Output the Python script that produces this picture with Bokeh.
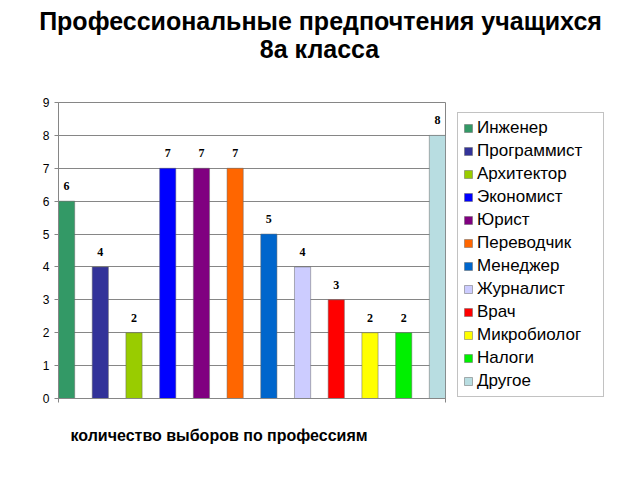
from bokeh.plotting import figure
from bokeh.layouts import column, row
from bokeh.models import (ColumnDataSource, Legend, LegendItem, FixedTicker,
                          Range1d, LabelSet, Label, Title)
from bokeh.embed import file_html
from bokeh.resources import INLINE

professions = ["Инженер", "Программист", "Архитектор", "Экономист", "Юрист",
               "Переводчик", "Менеджер", "Журналист", "Врач", "Микробиолог",
               "Налоги", "Другое"]
votes = [6, 4, 2, 7, 7, 7, 5, 4, 3, 2, 2, 8]
colors = ["#339966", "#333399", "#99CC00", "#0000FF", "#800080", "#FF6600",
          "#0066CC", "#CCCCFF", "#FF0000", "#FFFF00", "#00F000", "#B8DDE1"]
title_line1 = "Профессиональные предпочтения учащихся"
title_line2 = "8а класса"
x_title = "количество выборов по профессиям"
y_ticks = [0, 1, 2, 3, 4, 5, 6, 7, 8, 9]

FONT = "Liberation Sans"
GRAY = "#868686"

positions = list(range(len(professions)))
bar_w = 0.48
source = ColumnDataSource(dict(x=positions, top=votes, color=colors,
                               name=professions, label=[str(v) for v in votes]))

# ---- title strip ----
head = figure(width=640, height=94, x_range=Range1d(0, 640), y_range=Range1d(94, 0),
              output_backend="svg", toolbar_location=None,
              x_axis_location=None, y_axis_location=None,
              min_border=0)
head.grid.visible = False
head.outline_line_color = None
head.add_layout(Label(x=320, y=20, text=title_line1, text_align="center",
                      text_baseline="middle", text_font=FONT,
                      text_font_size="25px", text_font_style="bold",
                      text_color="black"))
head.add_layout(Label(x=319, y=48, text=title_line2, text_align="center",
                      text_baseline="middle", text_font=FONT,
                      text_font_size="25px", text_font_style="bold",
                      text_color="black"))

# ---- main chart ----
p = figure(width=452, height=386,
           x_range=Range1d(-bar_w / 2, len(professions) - 1 + bar_w / 2),
           y_range=Range1d(0, 9),
           output_backend="svg", toolbar_location=None,
           min_border_left=58, min_border_right=7,
           min_border_top=8, min_border_bottom=82)
p.background_fill_color = "white"
p.border_fill_color = "white"
p.outline_line_color = GRAY
p.outline_line_width = 1

r = p.vbar(x="x", top="top", width=bar_w, bottom=0, source=source,
           fill_color="color", line_color="#666666", line_width=0.5)

labels = LabelSet(x="x", y="top", text="label", source=source, y_offset=15,
                  text_align="center", text_baseline="middle",
                  text_font=FONT, text_font_size="12px", text_font_style="bold",
                  text_color="black")
p.add_layout(labels)

p.xgrid.visible = False
p.ygrid.grid_line_color = GRAY
p.ygrid.grid_line_width = 1
p.ygrid.ticker = FixedTicker(ticks=y_ticks)

p.yaxis.ticker = FixedTicker(ticks=y_ticks)
p.yaxis.major_tick_out = 4
p.yaxis.major_tick_in = 0
p.yaxis.minor_tick_line_color = None
p.yaxis.axis_line_color = GRAY
p.yaxis.major_tick_line_color = GRAY
p.yaxis.major_label_text_font = FONT
p.yaxis.major_label_text_font_size = "12px"
p.yaxis.major_label_text_color = "black"
p.yaxis.major_label_standoff = 5

p.xaxis.ticker = FixedTicker(ticks=[-bar_w / 2, len(professions) - 1 + bar_w / 2])
p.xaxis.major_tick_out = 4
p.xaxis.major_tick_in = 0
p.xaxis.minor_tick_line_color = None
p.xaxis.axis_line_color = GRAY
p.xaxis.major_tick_line_color = GRAY
p.xaxis.major_label_text_font_size = "1px"
p.xaxis.major_label_text_color = None
p.xaxis.major_label_standoff = 0

p.add_layout(Title(text=x_title, align="left", text_font=FONT,
                   text_font_size="16px", text_font_style="bold",
                   text_color="black", offset=12, standoff=44), "below")

# ---- legend strip (frame aligned with the chart frame) ----
lg = figure(width=188, height=386, x_range=Range1d(0, 1), y_range=Range1d(0, 1),
            output_backend="svg", toolbar_location=None,
            x_axis_location=None, y_axis_location=None, min_border=0)
lg.grid.visible = False
lg.outline_line_color = None
r2 = lg.vbar(x="x", top="top", width=bar_w, bottom=0, source=source,
             fill_color="color", line_color="#666666", line_width=0.5,
             visible=False)
items = [LegendItem(label=name, renderers=[r2], index=i)
         for i, name in enumerate(professions)]
legend = Legend(items=items, location=(5, 1), margin=0,
                padding=5, spacing=3, label_height=20, label_width=121,
                glyph_width=10, glyph_height=10, label_standoff=4,
                label_text_font=FONT, label_text_font_size="17px",
                label_text_color="black",
                border_line_color=GRAY, border_line_width=1,
                background_fill_color="white",
                inactive_fill_alpha=0)
lg.add_layout(legend)

layout = column(head, row(p, lg, spacing=0), spacing=0)

open("out.html", "w").write(file_html(layout, INLINE))
